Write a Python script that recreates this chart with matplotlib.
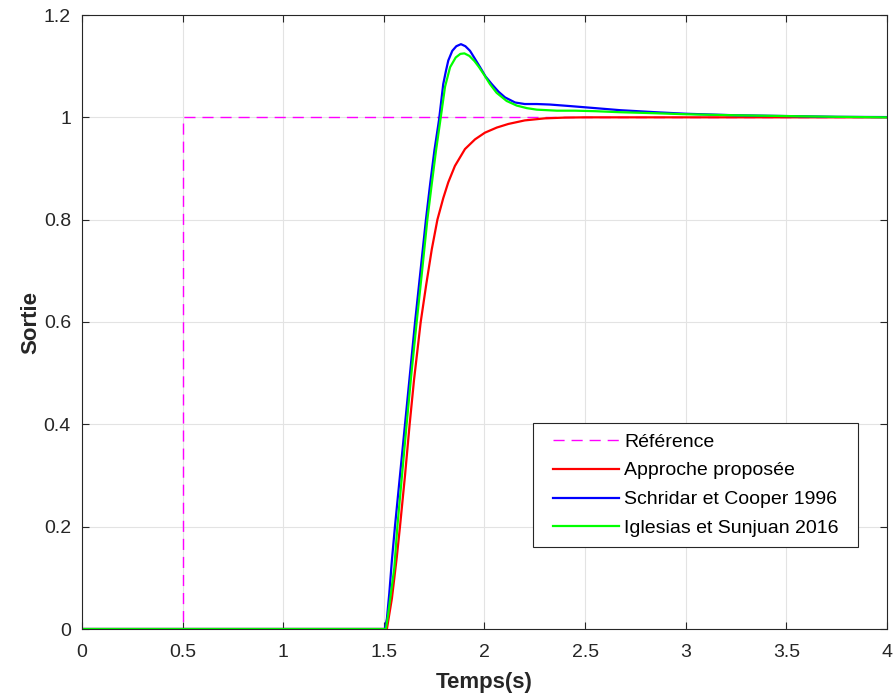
import matplotlib
matplotlib.use('Agg')
import matplotlib.pyplot as plt
from matplotlib.legend_handler import HandlerLine2D

plt.rcParams['font.family'] = ['Liberation Sans', 'DejaVu Sans']

# step reference
ref_t = [0, 0.5, 0.5, 4.0]
ref_y = [0, 0, 1, 1]

# Approche proposee (red)
red_t = [0, 1.5, 1.515, 1.54, 1.564, 1.58, 1.605, 1.628, 1.65, 1.683, 1.71, 1.738,
         1.766, 1.795, 1.82, 1.853, 1.903, 1.953, 2.002, 2.061, 2.118, 2.2, 2.3,
         2.4, 2.5, 3.0, 3.5, 4.0]
red_y = [0, 0, 0.0, 0.06, 0.14, 0.2, 0.3, 0.4, 0.4875, 0.6, 0.672, 0.742,
         0.8, 0.842, 0.873, 0.905, 0.938, 0.957, 0.970, 0.980, 0.987, 0.994, 0.998,
         0.9995, 1.0, 1.0, 1.0, 1.0]

# Schridar et Cooper 1996 (blue)
blue_t = [0, 1.5, 1.505, 1.515, 1.527, 1.54, 1.555, 1.58, 1.605, 1.63, 1.655,
          1.682, 1.709, 1.73, 1.751, 1.774, 1.795, 1.808, 1.82, 1.84, 1.86,
          1.883, 1.905, 1.928, 1.95, 1.978, 2.005, 2.036, 2.07, 2.102, 2.152,
          2.2, 2.26, 2.325, 2.425, 2.55, 2.673, 2.85, 3.0, 3.25, 3.5, 3.75, 4.0]
blue_y = [0, 0, 0.0, 0.02, 0.07, 0.135, 0.2, 0.3, 0.4, 0.5, 0.6,
          0.7, 0.8, 0.87, 0.935, 0.995, 1.065, 1.09, 1.111, 1.13, 1.139,
          1.143, 1.139, 1.13, 1.116, 1.098, 1.08, 1.065, 1.05, 1.039, 1.029,
          1.026, 1.026, 1.025, 1.022, 1.018, 1.014, 1.01, 1.007, 1.004, 1.0025, 1.001, 1.0005]

# Iglesias et Sunjuan 2016 (green)
green_t = [0, 1.5, 1.51, 1.52, 1.535, 1.552, 1.567, 1.59, 1.613, 1.637, 1.663,
           1.69, 1.716, 1.738, 1.759, 1.779, 1.804, 1.829, 1.857, 1.88, 1.9,
           1.925, 1.95, 1.973, 2.0, 2.027, 2.06, 2.11, 2.16, 2.21, 2.26, 2.36,
           2.45, 2.55, 2.673, 2.85, 3.0, 3.25, 3.5, 3.75, 4.0]
green_y = [0, 0, 0.0, 0.025, 0.07, 0.12, 0.2, 0.3, 0.4, 0.5, 0.6,
           0.7, 0.8, 0.87, 0.935, 0.99, 1.06, 1.098, 1.117, 1.124, 1.125,
           1.12, 1.11, 1.098, 1.082, 1.065, 1.048, 1.032, 1.023, 1.018, 1.015, 1.013,
           1.013, 1.012, 1.01, 1.008, 1.006, 1.004, 1.0025, 1.001, 1.0]

x_ticks = [0, 0.5, 1, 1.5, 2, 2.5, 3, 3.5, 4]
x_labels = ['0', '0.5', '1', '1.5', '2', '2.5', '3', '3.5', '4']
y_ticks = [0, 0.2, 0.4, 0.6, 0.8, 1.0, 1.2]
y_labels = ['0', '0.2', '0.4', '0.6', '0.8', '1', '1.2']

fig = plt.figure(figsize=(8.93, 6.95), dpi=100)
ax = fig.add_axes([82 / 893, 66 / 695, 805 / 893, 614 / 695])

ax.plot(ref_t, ref_y, color='#ff00ff', lw=1.0, ls=(0, (8, 5)), label='Référence')
ax.plot(red_t, red_y, color='#ff0000', lw=1.6, label='Approche proposée')
ax.plot(blue_t, blue_y, color='#0000ff', lw=1.6, label='Schridar et Cooper 1996')
ax.plot(green_t, green_y, color='#00ff00', lw=1.6, label='Iglesias et Sunjuan 2016')

ax.set_xlim(0, 4)
ax.set_ylim(0, 1.2)
ax.set_xticks(x_ticks)
ax.set_xticklabels(x_labels)
ax.set_yticks(y_ticks)
ax.set_yticklabels(y_labels)
ax.tick_params(direction='in', top=True, right=True, labelsize=14, length=5,
               width=0.8, colors='#262626')
ax.tick_params(axis='x', pad=11)
ax.tick_params(axis='y', pad=8)
ax.grid(True, color='#e3e3e3', lw=0.8)
ax.set_axisbelow(True)
for s in ax.spines.values():
    s.set_color('#262626')
    s.set_linewidth(0.8)

ax.set_xlabel('Temps(s)', fontsize=16, fontweight='bold', color='#262626', labelpad=8)
ax.set_ylabel('Sortie', fontsize=16, fontweight='bold', color='#262626', labelpad=2)

leg = ax.legend(loc='lower left', bbox_to_anchor=(0.5602, 0.1336, 0.4037, 0.1),
                mode='expand', borderaxespad=0, fontsize=14, handlelength=3.9,
                labelspacing=0.58, fancybox=False, framealpha=1, edgecolor='#262626',
                borderpad=0.5, handletextpad=0.3,
                handler_map={plt.Line2D: HandlerLine2D(xpad=0.55)})
leg.get_frame().set_linewidth(0.8)

fig.savefig('out.png', dpi=100)
